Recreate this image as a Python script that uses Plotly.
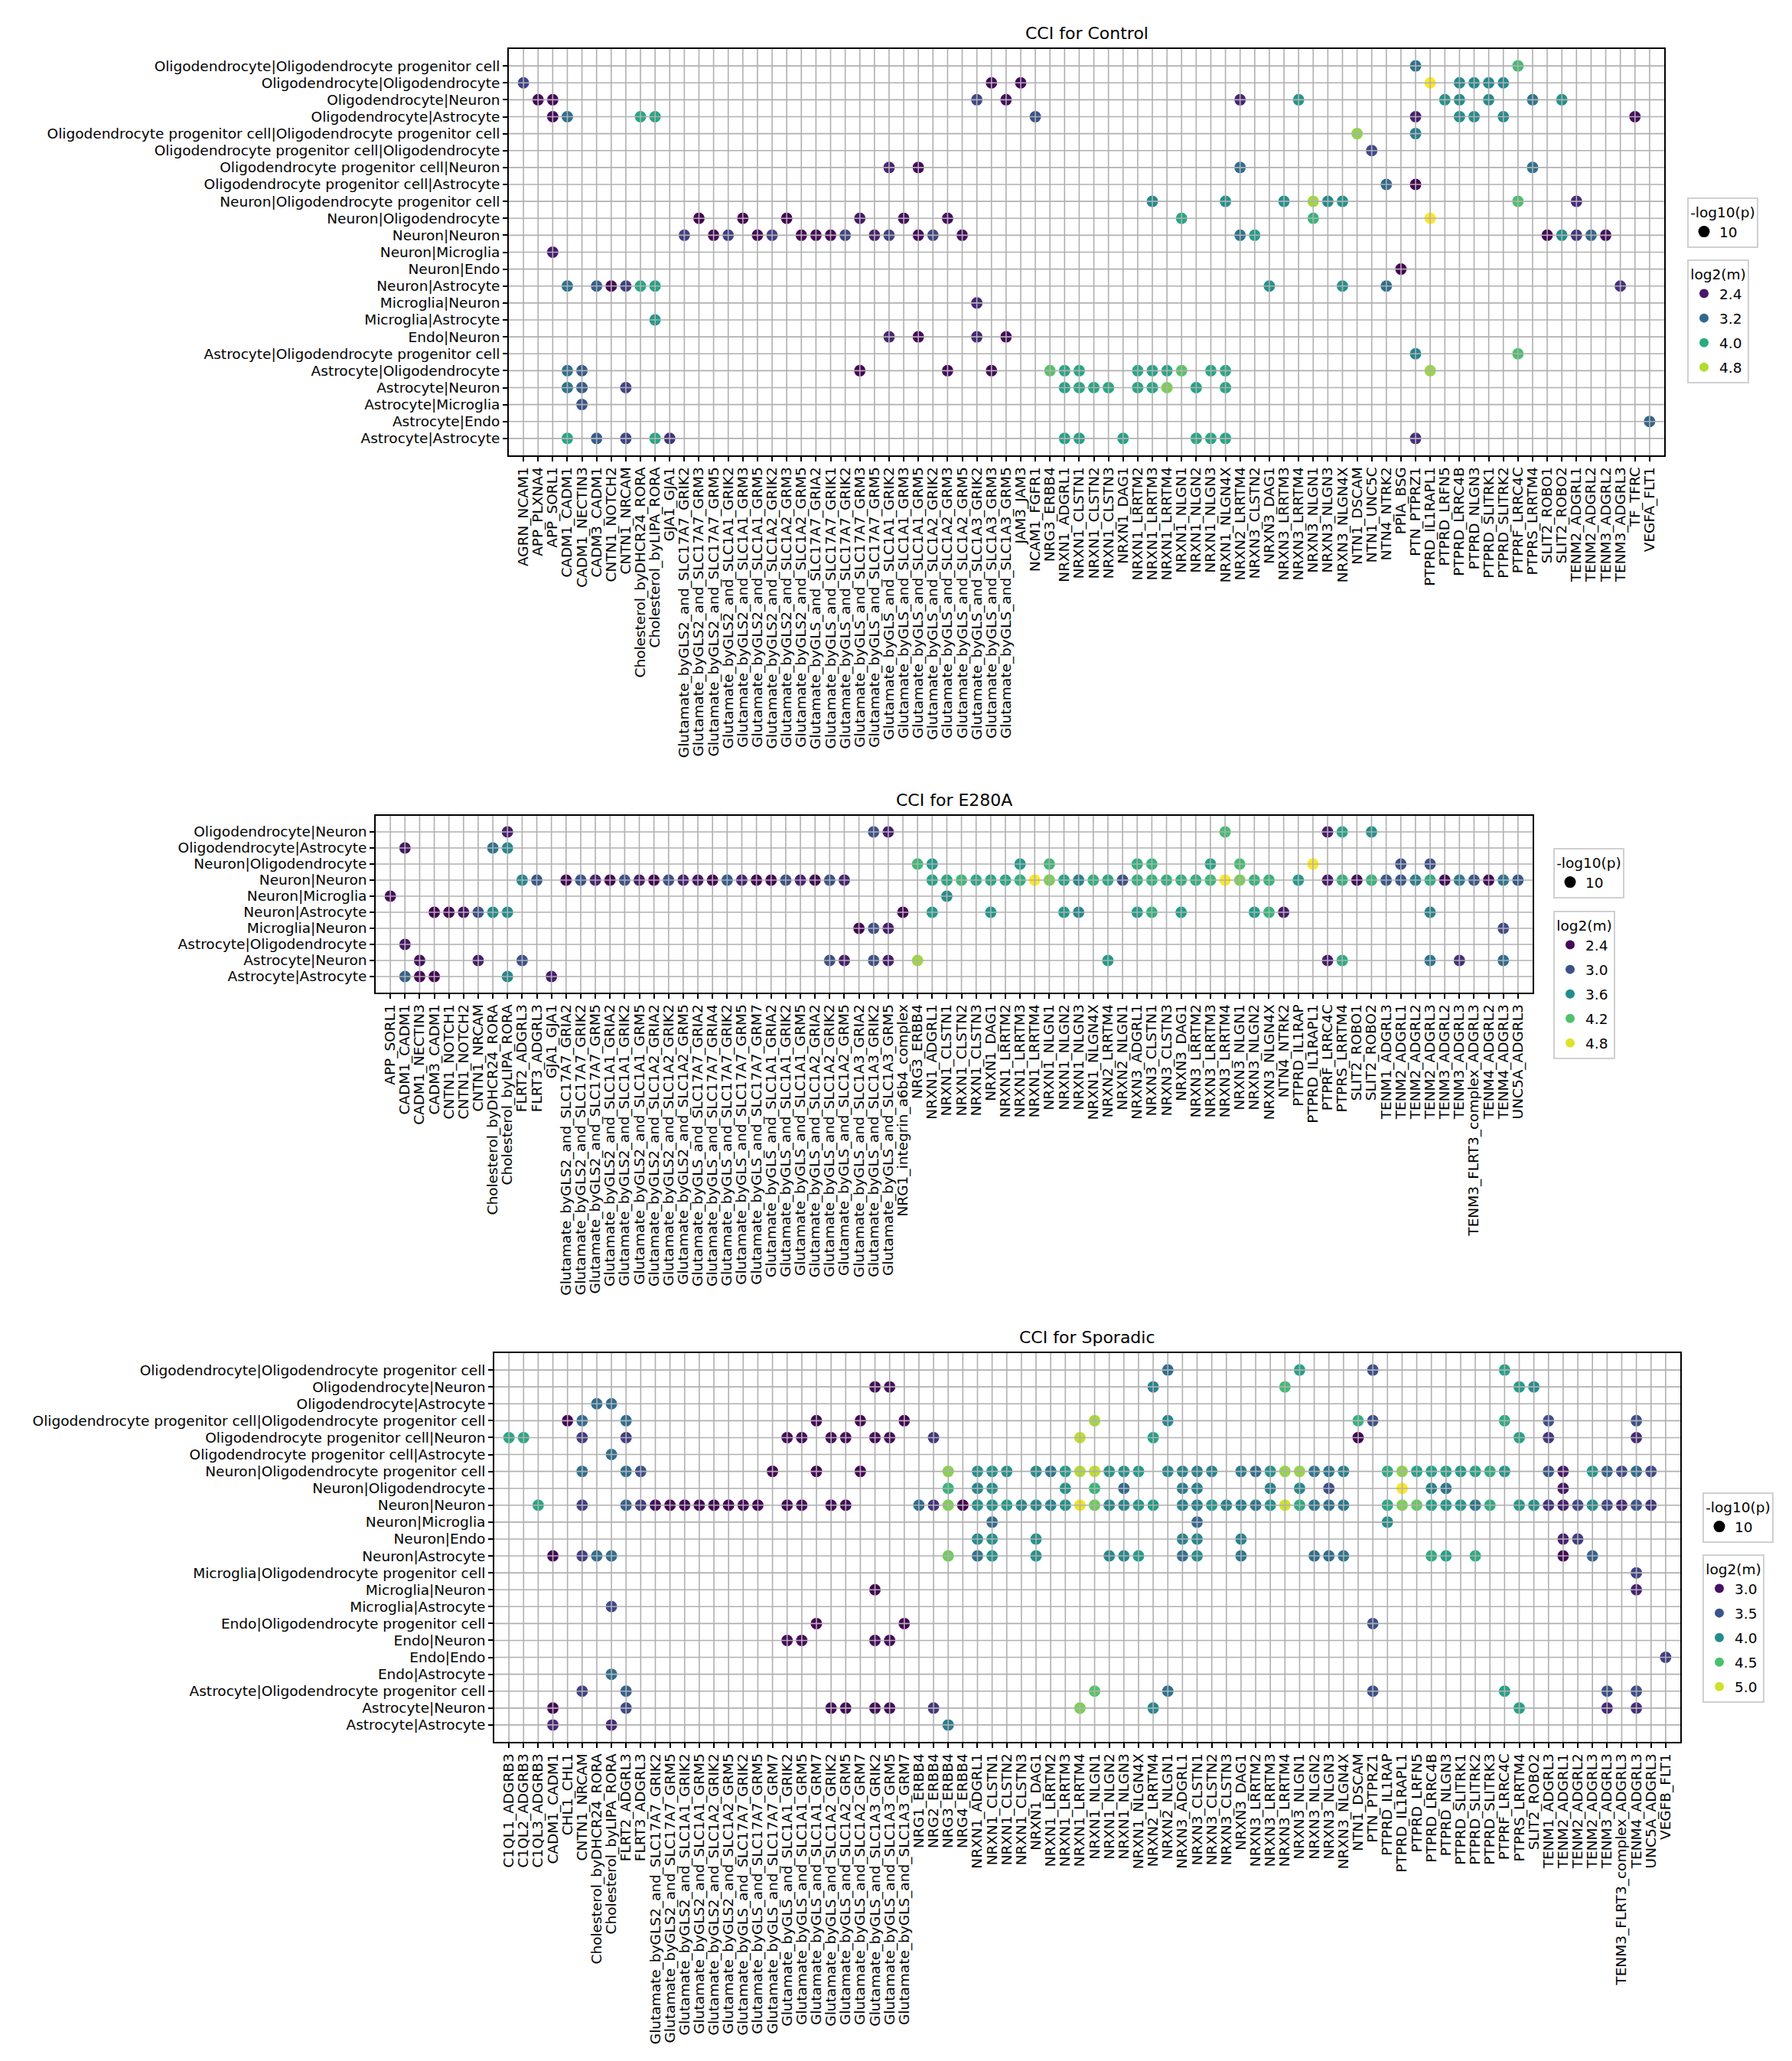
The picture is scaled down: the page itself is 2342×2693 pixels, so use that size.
"""
Cell-cell interaction dot plots (Control / E280A / Sporadic)
"""

import plotly.graph_objects as go
from plotly.colors import sample_colorscale

W, H = 2342, 2693

# ---------------------------------------------------------------- Control
ctrl_pairs = [
    "Oligodendrocyte|Oligodendrocyte progenitor cell",
    "Oligodendrocyte|Oligodendrocyte",
    "Oligodendrocyte|Neuron",
    "Oligodendrocyte|Astrocyte",
    "Oligodendrocyte progenitor cell|Oligodendrocyte progenitor cell",
    "Oligodendrocyte progenitor cell|Oligodendrocyte",
    "Oligodendrocyte progenitor cell|Neuron",
    "Oligodendrocyte progenitor cell|Astrocyte",
    "Neuron|Oligodendrocyte progenitor cell",
    "Neuron|Oligodendrocyte",
    "Neuron|Neuron",
    "Neuron|Microglia",
    "Neuron|Endo",
    "Neuron|Astrocyte",
    "Microglia|Neuron",
    "Microglia|Astrocyte",
    "Endo|Neuron",
    "Astrocyte|Oligodendrocyte progenitor cell",
    "Astrocyte|Oligodendrocyte",
    "Astrocyte|Neuron",
    "Astrocyte|Microglia",
    "Astrocyte|Endo",
    "Astrocyte|Astrocyte",
]

ctrl_lr = [
    "AGRN_NCAM1", "APP_PLXNA4", "APP_SORL1", "CADM1_CADM1", "CADM1_NECTIN3",
    "CADM3_CADM1", "CNTN1_NOTCH2", "CNTN1_NRCAM", "Cholesterol_byDHCR24_RORA",
    "Cholesterol_byLIPA_RORA", "GJA1_GJA1",
    "Glutamate_byGLS2_and_SLC17A7_GRIK2", "Glutamate_byGLS2_and_SLC17A7_GRM3",
    "Glutamate_byGLS2_and_SLC17A7_GRM5", "Glutamate_byGLS2_and_SLC1A1_GRIK2",
    "Glutamate_byGLS2_and_SLC1A1_GRM3", "Glutamate_byGLS2_and_SLC1A1_GRM5",
    "Glutamate_byGLS2_and_SLC1A2_GRIK2", "Glutamate_byGLS2_and_SLC1A2_GRM3",
    "Glutamate_byGLS2_and_SLC1A2_GRM5",
    "Glutamate_byGLS_and_SLC17A7_GRIA2", "Glutamate_byGLS_and_SLC17A7_GRIK1",
    "Glutamate_byGLS_and_SLC17A7_GRIK2", "Glutamate_byGLS_and_SLC17A7_GRM3",
    "Glutamate_byGLS_and_SLC17A7_GRM5", "Glutamate_byGLS_and_SLC1A1_GRIK2",
    "Glutamate_byGLS_and_SLC1A1_GRM3", "Glutamate_byGLS_and_SLC1A1_GRM5",
    "Glutamate_byGLS_and_SLC1A2_GRIK2", "Glutamate_byGLS_and_SLC1A2_GRM3",
    "Glutamate_byGLS_and_SLC1A2_GRM5", "Glutamate_byGLS_and_SLC1A3_GRIK2",
    "Glutamate_byGLS_and_SLC1A3_GRM3", "Glutamate_byGLS_and_SLC1A3_GRM5",
    "JAM3_JAM3", "NCAM1_FGFR1", "NRG3_ERBB4",
    "NRXN1_ADGRL1", "NRXN1_CLSTN1", "NRXN1_CLSTN2", "NRXN1_CLSTN3", "NRXN1_DAG1",
    "NRXN1_LRRTM2", "NRXN1_LRRTM3", "NRXN1_LRRTM4", "NRXN1_NLGN1", "NRXN1_NLGN2",
    "NRXN1_NLGN3", "NRXN1_NLGN4X", "NRXN2_LRRTM4", "NRXN3_CLSTN2", "NRXN3_DAG1",
    "NRXN3_LRRTM3", "NRXN3_LRRTM4", "NRXN3_NLGN1", "NRXN3_NLGN3", "NRXN3_NLGN4X",
    "NTN1_DSCAM", "NTN1_UNC5C", "NTN4_NTRK2", "PPIA_BSG", "PTN_PTPRZ1",
    "PTPRD_IL1RAPL1", "PTPRD_LRFN5", "PTPRD_LRRC4B", "PTPRD_NLGN3",
    "PTPRD_SLITRK1", "PTPRD_SLITRK2", "PTPRF_LRRC4C", "PTPRS_LRRTM4",
    "SLIT2_ROBO1", "SLIT2_ROBO2", "TENM2_ADGRL1", "TENM2_ADGRL2", "TENM3_ADGRL2",
    "TENM3_ADGRL3", "TF_TFRC", "VEGFA_FLT1",
]

# one list per row of ctrl_pairs: (ligand-receptor number counted from 1, log2(m))
ctrl_dots = [
    [(62, 3.3), (69, 4.25)],
    [(1, 2.8), (33, 2.25), (35, 2.25), (63, 5.16), (65, 3.6), (66, 3.6), (67, 3.6), (68, 3.6)],
    [(2, 2.25), (3, 2.25), (32, 2.85), (34, 2.3), (50, 2.5), (54, 3.75), (64, 3.7), (65, 3.65),
     (67, 3.6), (70, 3.35), (72, 3.7)],
    [(3, 2.25), (4, 3.25), (9, 3.95), (10, 3.95), (36, 2.95), (62, 2.45), (65, 3.65), (66, 3.65),
     (68, 3.65), (77, 2.3)],
    [(58, 4.65), (62, 3.45)],
    [(59, 2.85)],
    [(26, 2.5), (28, 2.25), (50, 3.25), (70, 3.3)],
    [(60, 3.2), (62, 2.2)],
    [(44, 3.6), (49, 3.7), (53, 3.7), (55, 4.75), (56, 3.6), (57, 3.7), (69, 4.3), (73, 2.55)],
    [(13, 2.2), (16, 2.2), (19, 2.2), (24, 2.4), (27, 2.3), (30, 2.3), (46, 3.95), (55, 4.15),
     (63, 5.16)],
    [(12, 2.75), (14, 2.25), (15, 2.75), (17, 2.25), (18, 2.75), (20, 2.25), (21, 2.25), (22, 2.2),
     (23, 2.8), (25, 2.45), (26, 2.75), (28, 2.25), (29, 2.8), (31, 2.3), (50, 3.3), (51, 3.85),
     (71, 2.2), (72, 3.65), (73, 2.65), (74, 3.15), (75, 2.3)],
    [(3, 2.4)],
    [(61, 2.2)],
    [(4, 3.3), (6, 3.1), (7, 2.25), (8, 2.75), (9, 3.95), (10, 3.9), (52, 3.7), (57, 3.7),
     (60, 3.25), (76, 2.6)],
    [(32, 2.5)],
    [(10, 3.8)],
    [(26, 2.5), (28, 2.25), (32, 2.5), (34, 2.25)],
    [(62, 3.55), (69, 4.3)],
    [(4, 3.3), (5, 3.05), (24, 2.2), (30, 2.25), (33, 2.25), (37, 4.35), (38, 3.95), (39, 3.95),
     (43, 3.95), (44, 3.9), (45, 3.95), (46, 4.35), (48, 3.95), (49, 3.95), (63, 4.7)],
    [(4, 3.3), (5, 3.05), (8, 2.8), (38, 3.9), (39, 3.95), (40, 3.95), (41, 3.95), (43, 3.95),
     (44, 3.95), (45, 4.55), (47, 3.9), (49, 3.95)],
    [(5, 2.95)],
    [(78, 3.15)],
    [(4, 3.95), (6, 3.05), (8, 2.8), (10, 3.95), (11, 2.65), (38, 3.9), (39, 3.9), (42, 3.9),
     (47, 3.95), (48, 3.95), (49, 3.95), (62, 2.6)],
]
ctrl_legend_ticks = [2.4, 3.2, 4.0, 4.8]

# ---------------------------------------------------------------- E280A
e280a_pairs = [
    "Oligodendrocyte|Neuron",
    "Oligodendrocyte|Astrocyte",
    "Neuron|Oligodendrocyte",
    "Neuron|Neuron",
    "Neuron|Microglia",
    "Neuron|Astrocyte",
    "Microglia|Neuron",
    "Astrocyte|Oligodendrocyte",
    "Astrocyte|Neuron",
    "Astrocyte|Astrocyte",
]

e280a_lr = [
    "APP_SORL1", "CADM1_CADM1", "CADM1_NECTIN3", "CADM3_CADM1", "CNTN1_NOTCH1",
    "CNTN1_NOTCH2", "CNTN1_NRCAM", "Cholesterol_byDHCR24_RORA", "Cholesterol_byLIPA_RORA",
    "FLRT2_ADGRL3", "FLRT3_ADGRL3", "GJA1_GJA1",
    "Glutamate_byGLS2_and_SLC17A7_GRIA2", "Glutamate_byGLS2_and_SLC17A7_GRIK2",
    "Glutamate_byGLS2_and_SLC17A7_GRM5", "Glutamate_byGLS2_and_SLC1A1_GRIA2",
    "Glutamate_byGLS2_and_SLC1A1_GRIK2", "Glutamate_byGLS2_and_SLC1A1_GRM5",
    "Glutamate_byGLS2_and_SLC1A2_GRIA2", "Glutamate_byGLS2_and_SLC1A2_GRIK2",
    "Glutamate_byGLS2_and_SLC1A2_GRM5",
    "Glutamate_byGLS_and_SLC17A7_GRIA2", "Glutamate_byGLS_and_SLC17A7_GRIA4",
    "Glutamate_byGLS_and_SLC17A7_GRIK2", "Glutamate_byGLS_and_SLC17A7_GRM5",
    "Glutamate_byGLS_and_SLC17A7_GRM7", "Glutamate_byGLS_and_SLC1A1_GRIA2",
    "Glutamate_byGLS_and_SLC1A1_GRIK2", "Glutamate_byGLS_and_SLC1A1_GRM5",
    "Glutamate_byGLS_and_SLC1A2_GRIA2", "Glutamate_byGLS_and_SLC1A2_GRIK2",
    "Glutamate_byGLS_and_SLC1A2_GRM5", "Glutamate_byGLS_and_SLC1A3_GRIA2",
    "Glutamate_byGLS_and_SLC1A3_GRIK2", "Glutamate_byGLS_and_SLC1A3_GRM5",
    "NRG1_integrin_a6b4_complex", "NRG3_ERBB4",
    "NRXN1_ADGRL1", "NRXN1_CLSTN1", "NRXN1_CLSTN2", "NRXN1_CLSTN3", "NRXN1_DAG1",
    "NRXN1_LRRTM2", "NRXN1_LRRTM3", "NRXN1_LRRTM4", "NRXN1_NLGN1", "NRXN1_NLGN2",
    "NRXN1_NLGN3", "NRXN1_NLGN4X", "NRXN2_LRRTM4", "NRXN2_NLGN1", "NRXN3_ADGRL1",
    "NRXN3_CLSTN1", "NRXN3_CLSTN3", "NRXN3_DAG1", "NRXN3_LRRTM2", "NRXN3_LRRTM3",
    "NRXN3_LRRTM4", "NRXN3_NLGN1", "NRXN3_NLGN2", "NRXN3_NLGN4X", "NTN4_NTRK2",
    "PTPRD_IL1RAP", "PTPRD_IL1RAPL1", "PTPRF_LRRC4C", "PTPRS_LRRTM4", "SLIT2_ROBO1",
    "SLIT2_ROBO2", "TENM1_ADGRL3", "TENM2_ADGRL1", "TENM2_ADGRL2", "TENM2_ADGRL3",
    "TENM3_ADGRL2", "TENM3_ADGRL3", "TENM3_FLRT3_complex_ADGRL3", "TENM4_ADGRL2",
    "TENM4_ADGRL3", "UNC5A_ADGRL3",
]

e280a_dots = [
    [(9, 2.55), (34, 3.0), (35, 2.55), (58, 4.15), (65, 2.55), (66, 3.85), (68, 3.65)],
    [(2, 2.5), (8, 3.3), (9, 3.55)],
    [(37, 4.1), (38, 3.75), (44, 3.75), (46, 4.1), (52, 4.0), (53, 4.05), (57, 3.85), (59, 4.15),
     (64, 4.93), (70, 3.0), (72, 3.0)],
    [(10, 3.55), (11, 3.05), (13, 2.35), (14, 3.0), (15, 2.6), (16, 2.35), (17, 3.0), (18, 2.55),
     (19, 2.35), (20, 3.0), (21, 2.6), (22, 2.5), (23, 2.35), (24, 3.1), (25, 2.6), (26, 2.35),
     (27, 2.35), (28, 3.0), (29, 2.6), (30, 2.35), (31, 3.0), (32, 2.6), (38, 3.85), (39, 3.9),
     (40, 4.1), (41, 3.9), (42, 3.9), (43, 3.9), (44, 4.0), (45, 4.93), (46, 4.4), (47, 3.85),
     (48, 3.5), (49, 4.0), (50, 3.9), (51, 3.0), (52, 4.0), (53, 4.05), (54, 4.0), (55, 4.0),
     (56, 4.0), (57, 4.1), (58, 4.93), (59, 4.4), (60, 4.05), (61, 4.05), (63, 3.75), (65, 2.55),
     (66, 4.0), (67, 2.45), (68, 4.05), (69, 3.05), (70, 3.05), (71, 3.45), (72, 3.95), (73, 2.4),
     (74, 3.4), (75, 3.05), (76, 2.4), (77, 3.35), (78, 3.05)],
    [(1, 2.4), (39, 3.6)],
    [(4, 2.35), (5, 2.35), (6, 2.5), (7, 3.0), (8, 3.6), (9, 3.6), (36, 2.35), (38, 3.75),
     (42, 3.7), (47, 3.75), (48, 3.55), (52, 3.8), (53, 4.0), (55, 3.8), (60, 3.75), (61, 4.05),
     (62, 2.55), (72, 3.5)],
    [(33, 2.35), (34, 3.0), (35, 2.55), (77, 2.95)],
    [(2, 2.5)],
    [(3, 2.45), (7, 2.55), (10, 3.0), (31, 3.0), (32, 2.55), (34, 3.0), (35, 2.55), (37, 4.55),
     (50, 3.75), (65, 2.55), (66, 3.95), (72, 3.35), (74, 2.7), (77, 3.25)],
    [(2, 3.15), (3, 2.35), (4, 2.35), (9, 3.55), (12, 2.55)],
]
e280a_legend_ticks = [2.4, 3.0, 3.6, 4.2, 4.8]

# ---------------------------------------------------------------- Sporadic
spor_pairs = [
    "Oligodendrocyte|Oligodendrocyte progenitor cell",
    "Oligodendrocyte|Neuron",
    "Oligodendrocyte|Astrocyte",
    "Oligodendrocyte progenitor cell|Oligodendrocyte progenitor cell",
    "Oligodendrocyte progenitor cell|Neuron",
    "Oligodendrocyte progenitor cell|Astrocyte",
    "Neuron|Oligodendrocyte progenitor cell",
    "Neuron|Oligodendrocyte",
    "Neuron|Neuron",
    "Neuron|Microglia",
    "Neuron|Endo",
    "Neuron|Astrocyte",
    "Microglia|Oligodendrocyte progenitor cell",
    "Microglia|Neuron",
    "Microglia|Astrocyte",
    "Endo|Oligodendrocyte progenitor cell",
    "Endo|Neuron",
    "Endo|Endo",
    "Endo|Astrocyte",
    "Astrocyte|Oligodendrocyte progenitor cell",
    "Astrocyte|Neuron",
    "Astrocyte|Astrocyte",
]

spor_lr = [
    "C1QL1_ADGRB3", "C1QL2_ADGRB3", "C1QL3_ADGRB3", "CADM1_CADM1", "CHL1_CHL1",
    "CNTN1_NRCAM", "Cholesterol_byDHCR24_RORA", "Cholesterol_byLIPA_RORA",
    "FLRT2_ADGRL3", "FLRT3_ADGRL3",
    "Glutamate_byGLS2_and_SLC17A7_GRIK2", "Glutamate_byGLS2_and_SLC17A7_GRM5",
    "Glutamate_byGLS2_and_SLC1A1_GRIK2", "Glutamate_byGLS2_and_SLC1A1_GRM5",
    "Glutamate_byGLS2_and_SLC1A2_GRIK2", "Glutamate_byGLS2_and_SLC1A2_GRM5",
    "Glutamate_byGLS_and_SLC17A7_GRIK2", "Glutamate_byGLS_and_SLC17A7_GRM5",
    "Glutamate_byGLS_and_SLC17A7_GRM7", "Glutamate_byGLS_and_SLC1A1_GRIK2",
    "Glutamate_byGLS_and_SLC1A1_GRM5", "Glutamate_byGLS_and_SLC1A1_GRM7",
    "Glutamate_byGLS_and_SLC1A2_GRIK2", "Glutamate_byGLS_and_SLC1A2_GRM5",
    "Glutamate_byGLS_and_SLC1A2_GRM7", "Glutamate_byGLS_and_SLC1A3_GRIK2",
    "Glutamate_byGLS_and_SLC1A3_GRM5", "Glutamate_byGLS_and_SLC1A3_GRM7",
    "NRG1_ERBB4", "NRG2_ERBB4", "NRG3_ERBB4", "NRG4_ERBB4",
    "NRXN1_ADGRL1", "NRXN1_CLSTN1", "NRXN1_CLSTN2", "NRXN1_CLSTN3", "NRXN1_DAG1",
    "NRXN1_LRRTM2", "NRXN1_LRRTM3", "NRXN1_LRRTM4", "NRXN1_NLGN1", "NRXN1_NLGN2",
    "NRXN1_NLGN3", "NRXN1_NLGN4X", "NRXN2_LRRTM4", "NRXN2_NLGN1", "NRXN3_ADGRL1",
    "NRXN3_CLSTN1", "NRXN3_CLSTN2", "NRXN3_CLSTN3", "NRXN3_DAG1", "NRXN3_LRRTM2",
    "NRXN3_LRRTM3", "NRXN3_LRRTM4", "NRXN3_NLGN1", "NRXN3_NLGN2", "NRXN3_NLGN3",
    "NRXN3_NLGN4X", "NTN1_DSCAM", "PTN_PTPRZ1", "PTPRD_IL1RAP", "PTPRD_IL1RAPL1",
    "PTPRD_LRFN5", "PTPRD_LRRC4B", "PTPRD_NLGN3", "PTPRD_SLITRK1", "PTPRD_SLITRK2",
    "PTPRD_SLITRK3", "PTPRF_LRRC4C", "PTPRS_LRRTM4", "SLIT2_ROBO2", "TENM1_ADGRL3",
    "TENM2_ADGRL1", "TENM2_ADGRL2", "TENM2_ADGRL3", "TENM3_ADGRL3",
    "TENM3_FLRT3_complex_ADGRL3", "TENM4_ADGRL3", "UNC5A_ADGRL3", "VEGFB_FLT1",
]

spor_dots = [
    [(46, 3.7), (55, 4.2), (60, 3.45), (69, 4.2)],
    [(26, 2.95), (27, 2.95), (45, 3.9), (54, 4.45), (70, 4.15), (71, 4.0)],
    [(7, 3.7), (8, 3.7)],
    [(5, 2.9), (6, 3.7), (9, 3.7), (22, 2.9), (25, 2.9), (28, 2.9), (41, 4.85), (46, 3.95),
     (59, 4.35), (60, 3.45), (69, 4.3), (72, 3.45), (78, 3.45)],
    [(1, 4.25), (2, 4.25), (6, 3.3), (9, 3.3), (20, 2.95), (21, 2.95), (23, 2.95), (24, 2.95),
     (26, 2.95), (27, 2.95), (30, 3.25), (40, 4.95), (45, 4.2), (59, 2.9), (70, 4.2), (72, 3.25),
     (78, 3.15)],
    [(8, 3.7)],
    [(6, 3.7), (9, 3.7), (10, 3.45), (19, 2.9), (22, 2.9), (25, 2.9), (31, 4.75), (33, 4.05),
     (34, 4.05), (35, 4.05), (37, 4.0), (38, 3.8), (39, 4.15), (40, 4.9), (41, 4.95), (42, 4.05),
     (43, 4.05), (44, 4.15), (46, 3.95), (47, 3.9), (48, 3.9), (49, 3.9), (51, 3.85), (52, 3.7),
     (53, 4.05), (54, 4.8), (55, 4.8), (56, 3.8), (57, 3.8), (58, 3.9), (61, 4.3), (62, 4.75),
     (63, 4.2), (64, 4.2), (65, 4.2), (66, 4.1), (67, 4.2), (68, 4.3), (69, 4.1), (72, 3.5),
     (73, 3.05), (75, 4.1), (76, 3.6), (77, 3.4), (78, 3.7), (79, 3.4)],
    [(31, 4.4), (33, 3.95), (34, 4.05), (39, 4.05), (41, 4.4), (43, 3.65), (47, 3.85), (48, 3.9),
     (53, 3.9), (55, 3.95), (57, 3.45), (62, 5.16), (64, 3.9), (65, 3.8), (73, 3.05)],
    [(3, 4.25), (6, 3.3), (9, 3.6), (10, 3.3), (11, 2.95), (12, 2.9), (13, 2.95), (14, 2.9),
     (15, 2.9), (16, 2.9), (17, 2.95), (18, 2.9), (20, 2.95), (21, 2.95), (23, 2.95), (24, 2.95),
     (29, 3.7), (30, 3.25), (31, 4.7), (32, 2.9), (33, 4.05), (34, 4.05), (35, 4.15), (36, 3.95),
     (37, 3.95), (38, 3.95), (39, 4.05), (40, 5.1), (41, 4.65), (42, 3.95), (43, 3.95), (44, 4.1),
     (45, 4.15), (47, 3.9), (48, 3.9), (49, 4.1), (50, 3.9), (51, 3.9), (52, 3.8), (53, 4.05),
     (54, 5.0), (55, 4.3), (56, 3.8), (57, 3.75), (58, 3.8), (61, 4.25), (62, 4.7), (63, 4.6),
     (64, 4.2), (65, 4.1), (66, 4.1), (67, 3.8), (68, 4.3), (70, 4.1), (71, 4.05), (72, 3.25),
     (73, 3.1), (74, 3.4), (75, 4.0), (76, 3.4), (77, 3.15), (78, 3.5), (79, 3.25)],
    [(34, 3.7), (48, 3.65), (61, 4.0)],
    [(33, 4.0), (34, 4.05), (37, 4.05), (47, 3.9), (48, 3.95), (51, 3.9), (73, 3.1), (74, 3.3)],
    [(4, 2.9), (6, 3.3), (7, 3.7), (8, 3.7), (31, 4.65), (33, 3.75), (34, 4.05), (37, 4.05),
     (42, 3.95), (43, 3.95), (44, 4.15), (47, 3.7), (48, 4.0), (51, 3.8), (56, 3.7), (57, 3.7),
     (58, 3.8), (64, 4.3), (65, 4.2), (67, 4.3), (73, 2.9), (75, 3.6)],
    [(78, 3.35)],
    [(26, 2.9), (78, 3.1)],
    [(8, 3.4)],
    [(22, 2.9), (28, 2.9), (60, 3.45)],
    [(20, 2.95), (21, 2.95), (26, 2.95), (27, 2.95)],
    [(80, 3.3)],
    [(8, 3.7)],
    [(6, 3.35), (9, 3.6), (41, 4.55), (46, 3.75), (60, 3.45), (69, 4.2), (76, 3.45), (78, 3.45)],
    [(4, 2.9), (9, 3.4), (23, 2.95), (24, 2.95), (26, 2.95), (27, 2.95), (30, 3.25), (40, 4.7),
     (45, 3.95), (70, 4.2), (76, 3.15), (78, 3.2)],
    [(4, 3.15), (8, 3.15), (31, 3.85)],
]
spor_legend_ticks = [3.0, 3.5, 4.0, 4.5, 5.0]

neglog10p = 10  # same -log10(p) for every dot

# ---------------------------------------------------------------- layout (pixels)
FONT = "DejaVu Sans"
TICK_SIZE = 18.5
GRID = "#b0b0b0"

panels = [
    # title, rows, columns, dots, legend ticks, plot box (l, t, r, b), legend x, legend tops
    ("CCI for Control", ctrl_pairs, ctrl_lr, ctrl_dots, ctrl_legend_ticks,
     (657, 56, 2167, 587), 2197, (250, 331)),
    ("CCI for E280A", e280a_pairs, e280a_lr, e280a_dots, e280a_legend_ticks,
     (483, 1058, 1995, 1289), 2022, (1100, 1182)),
    ("CCI for Sporadic", spor_pairs, spor_lr, spor_dots, spor_legend_ticks,
     (638, 1760, 2188, 2268), 2217, (1942, 2023)),
]

fig = go.Figure()
layout = dict(
    width=W, height=H,
    margin=dict(l=0, r=0, t=0, b=0),
    paper_bgcolor="white", plot_bgcolor="white",
    font=dict(family=FONT, size=TICK_SIZE, color="black"),
    showlegend=True,
)
shapes = []
annotations = []

for k, (title, rows, cols, dots, ticks, box, leg_x, leg_tops) in enumerate(panels, start=1):
    sfx = "" if k == 1 else str(k)
    xa, ya = "x" + sfx, "y" + sfx

    xs, ys, ms = [], [], []
    for row_name, row in zip(rows, dots):
        for c, m in row:
            xs.append(cols[c - 1])
            ys.append(row_name)
            ms.append(m)
    vmin, vmax = min(ms), max(ms)

    fig.add_trace(go.Scatter(
        x=xs, y=ys, mode="markers", xaxis=xa, yaxis=ya, showlegend=False,
        marker=dict(size=15, color=ms, colorscale="Viridis", cmin=vmin, cmax=vmax,
                    line=dict(width=0)),
        customdata=[neglog10p] * len(ms),
        hovertemplate="%{y}<br>%{x}<br>log2(m)=%{marker.color:.2f}<br>-log10(p)=%{customdata}<extra></extra>",
    ))

    # legends: size (-log10 p) and colour (log2 m); one group per entry so the gap applies
    leg_a = "legend" if k == 1 else "legend%d" % (2 * k - 1)
    leg_b = "legend%d" % (2 * k)
    fig.add_trace(go.Scatter(
        x=[None], y=[None], mode="markers", xaxis=xa, yaxis=ya, name=str(neglog10p),
        marker=dict(size=15, color="black"), legend=leg_a, legendgroup="p%d" % k,
        hoverinfo="skip",
    ))
    for t, col in zip(ticks, sample_colorscale("Viridis", [(t - vmin) / (vmax - vmin) for t in ticks])):
        fig.add_trace(go.Scatter(
            x=[None], y=[None], mode="markers", xaxis=xa, yaxis=ya, name="%.1f" % t,
            marker=dict(size=12, color=col), legend=leg_b, legendgroup="m%d_%s" % (k, t),
            hoverinfo="skip",
        ))
    for leg, ttl, top in ((leg_a, "-log10(p)", leg_tops[0]), (leg_b, "log2(m)", leg_tops[1])):
        layout[leg] = dict(
            x=leg_x / W, y=1 - top / H, xanchor="left", yanchor="top",
            bgcolor="white", bordercolor="#d0d0d0", borderwidth=2,
            font=dict(family=FONT, size=TICK_SIZE),
            title=dict(text=ttl, side="top center", font=dict(family=FONT, size=TICK_SIZE)),
            itemsizing="trace", tracegroupgap=5,
        )

    l, t, r, b = box
    axis_common = dict(
        type="category", categoryorder="array",
        tickmode="linear", tick0=0, dtick=1,   # label every category, no thinning
        showline=True, linecolor="black", linewidth=1.7, mirror=True,
        ticks="outside", ticklen=6, tickwidth=1.5, tickcolor="black",
        showgrid=False, zeroline=False, automargin=False,
        tickfont=dict(family=FONT, size=TICK_SIZE, color="black"),
    )
    layout["xaxis" + sfx] = dict(
        axis_common, categoryarray=cols, range=[-1, len(cols)],
        domain=[l / W, r / W], anchor=ya, tickangle=-90,
    )
    layout["yaxis" + sfx] = dict(
        axis_common, categoryarray=rows, range=[len(rows), -1],
        domain=[1 - b / H, 1 - t / H], anchor=xa,
    )

    # grid lines drawn above the dots, as in the original
    for c in cols:
        shapes.append(dict(type="line", xref=xa, yref=ya + " domain", x0=c, x1=c, y0=0, y1=1,
                           line=dict(color=GRID, width=1.6), layer="above"))
    for rname in rows:
        shapes.append(dict(type="line", xref=xa + " domain", yref=ya, x0=0, x1=1, y0=rname, y1=rname,
                           line=dict(color=GRID, width=1.6), layer="above"))

    annotations.append(dict(
        text=title, x=(l + r) / 2 / W, y=1 - t / H, xref="paper", yref="paper",
        xanchor="center", yanchor="bottom", yshift=6, showarrow=False,
        font=dict(family=FONT, size=22, color="black"),
    ))

layout["shapes"] = shapes
layout["annotations"] = annotations
fig.update_layout(**layout)

fig.write_html("out.html")
print("saved out.html")
